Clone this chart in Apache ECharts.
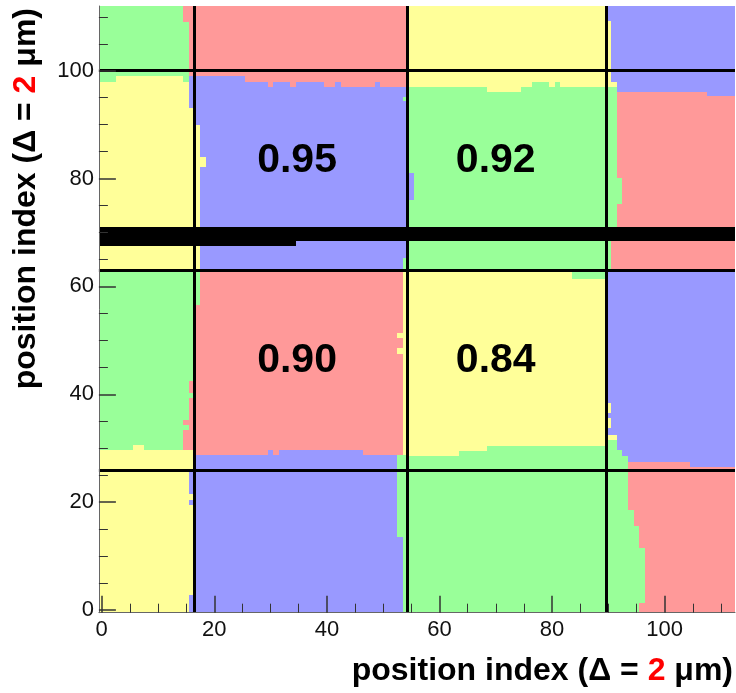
<!DOCTYPE html>
<html>
<head>
<meta charset="utf-8">
<script src="https://cdn.jsdelivr.net/npm/echarts@6/dist/echarts.min.js"></script>
<style>
  html, body { margin: 0; padding: 0; background: #fff; }
  #main { width: 736px; height: 693px; }
</style>
</head>
<body>
<div id="main"></div>
<script>
// colour index: 0 green, 1 red, 2 yellow, 3 blue, 4 black (dead rows)
const palette = ['#99ff99', '#ff9999', '#ffff99', '#9999ff', '#000000']

// column blocks along x (position index)
const colEdges = [-0.5, 16.5, 54.5, 89.5, 112.5]
// band edges along y for each column block, bottom to top
const bandEdges = [
  [-0.5, 29.7, 63, 99, 112],
  [-0.5, 28.7, 63, 97, 112],
  [-0.5, 30.4, 63, 97, 112],
  [-0.5, 27.5, 63, 96, 112]
]
// block colours, band (bottom -> top) x column block
const blockColors = [
  [2, 3, 0, 1],
  [0, 1, 2, 3],
  [2, 3, 0, 1],
  [0, 1, 2, 3]
]
// ragged borders: [x0, x1, y0, y1, colour]
const patches = [
  [5.5, 7.5, 29.7, 30.6, 2],
  [-0.5, 2.5, 98, 99, 0],
  [14.5, 15.5, 98, 99, 0],
  [14.5, 16.5, 109, 112, 1],
  [15.5, 16.5, 99, 109, 1],
  [15.5, 16.5, 93, 99, 3],
  [16.5, 17.5, 63, 90, 2],
  [17.5, 18.5, 82.2, 84, 2],
  [16.5, 17.5, 56.6, 63, 0],
  [15.5, 16.5, 40.3, 42.4, 1],
  [15.5, 16.5, 35.3, 39.3, 1],
  [14.5, 16.5, 34.3, 35.3, 1],
  [15.5, 16.5, 33.4, 34.3, 1],
  [14.5, 16.5, 29.7, 33.4, 1],
  [15.5, 16.5, 21.6, 25.7, 3],
  [15.5, 16.5, 19.5, 20.4, 3],
  [15.5, 16.5, -0.5, 2.8, 3],
  [29.5, 30.5, 28.7, 29.6, 3],
  [31.5, 46.5, 28.7, 29.6, 3],
  [16.5, 25.5, 97, 99, 3],
  [25.5, 29.5, 97, 98, 3],
  [30.5, 33.5, 97, 98, 3],
  [34.5, 39.5, 97, 98, 3],
  [41.5, 42.5, 97, 98, 3],
  [48.5, 49.5, 97, 98, 3],
  [53.5, 54.5, 94.3, 95.2, 0],
  [54.5, 55.5, 76, 81, 3],
  [53.5, 54.5, 63, 65.3, 0],
  [53.5, 54.5, 28.7, 63, 2],
  [52.5, 53.5, 50.5, 51.4, 2],
  [52.5, 53.5, 47.5, 48.6, 2],
  [52.5, 54.5, 13.5, 28.7, 0],
  [53.5, 54.5, -0.5, 13.5, 0],
  [54.5, 63.5, 28.6, 30.4, 2],
  [63.5, 68.5, 29.5, 30.4, 2],
  [83.5, 89.5, 61.3, 63, 0],
  [68.5, 74.5, 96, 97, 2],
  [76.5, 79.5, 97, 98, 0],
  [80.5, 81.5, 97, 98, 0],
  [89.5, 90.5, 98, 109.2, 2],
  [89.5, 91.5, 97, 98, 2],
  [89.5, 91.5, 63, 97, 0],
  [91.5, 92.5, 75.3, 80.1, 0],
  [90.5, 91.5, 63, 68.5, 1],
  [107.5, 112.5, 95.3, 96, 3],
  [89.5, 90.5, 36.5, 38.4, 2],
  [89.5, 90.5, 33.8, 35.6, 2],
  [89.5, 91.5, 31.5, 32.5, 2],
  [89.5, 91.5, 29.6, 31.5, 0],
  [89.5, 92.5, 28.6, 29.6, 0],
  [89.5, 93.5, -0.5, 28.6, 0],
  [93.5, 94.5, -0.5, 18.6, 0],
  [94.5, 95.5, -0.5, 15.5, 0],
  [95.5, 96.5, 1.3, 11.5, 0],
  [104.5, 112.5, 26.5, 27.5, 3],
  // dead rows
  [-0.5, 112.5, 68.5, 71.1, 4],
  [-0.5, 34.5, 67.5, 68.5, 4]
]

// sensor boundaries
const cutX = [16.5, 54.3, 89.7]
const cutY = [26, 63, 100]

// efficiencies written in the four central cells
const effX = [34.7, 70.0, 34.7, 70.0]
const effY = [83.3, 83.3, 46.2, 46.2]
const effText = ['0.95', '0.92', '0.90', '0.84']

const tickValues = [0, 20, 40, 60, 80, 100]

const rects = []
for (let b = 0; b < 4; b++) {
  for (let c = 0; c < 4; c++) {
    rects.push([colEdges[c], colEdges[c + 1], bandEdges[c][b], bandEdges[c][b + 1], blockColors[b][c]])
  }
}
patches.forEach(p => rects.push(p))

const font = 'Liberation Sans, Arial, Helvetica, sans-serif'
const axisTitle = 'position index (Δ = {r|2} μm)'

function axisCommon() {
  return {
    type: 'value',
    z: 10,
    axisLine: { show: true, onZero: false, lineStyle: { color: '#666', width: 1 } },
    axisTick: { show: true, inside: true, length: 17, customValues: tickValues, lineStyle: { color: '#333', width: 1.5 } },
    minorTick: { show: true, splitNumber: 4, length: 9, lineStyle: { color: '#333', width: 1 } },
    axisLabel: { customValues: tickValues, fontSize: 22, color: '#111', fontFamily: font },
    splitLine: { show: false },
    name: axisTitle,
    nameLocation: 'end',
    nameGap: -2
  }
}

const chart = echarts.init(document.getElementById('main'))

const xAxis = axisCommon()
xAxis.min = -0.5
xAxis.max = 112.5
xAxis.axisLabel.margin = 6
xAxis.nameTextStyle = {
  fontSize: 32, fontWeight: 'bold', color: '#000', fontFamily: font,
  align: 'right', verticalAlign: 'top', padding: [42, 0, 0, 0],
  rich: { r: { fontSize: 32, fontWeight: 'bold', color: '#ff0000', fontFamily: font } }
}

const yAxis = axisCommon()
yAxis.min = -0.5
yAxis.max = 112
yAxis.axisLabel.margin = 5
yAxis.nameRotate = 90
yAxis.nameTextStyle = {
  fontSize: 32, fontWeight: 'bold', color: '#000', fontFamily: font,
  align: 'right', verticalAlign: 'bottom', padding: [0, 0, 57, 0],
  rich: { r: { fontSize: 32, fontWeight: 'bold', color: '#ff0000', fontFamily: font } }
}

chart.setOption({
  animation: false,
  grid: { left: 98.9, right: 1, top: 6, bottom: 80.3, containLabel: false },
  xAxis: xAxis,
  yAxis: yAxis,
  series: [
    {
      type: 'custom',
      data: rects,
      encode: { x: [0, 1], y: [2, 3] },
      clip: true,
      silent: true,
      renderItem: function (params, api) {
        const p0 = api.coord([api.value(0), api.value(3)])
        const p1 = api.coord([api.value(1), api.value(2)])
        const x = Math.round(p0[0])
        const y = Math.round(p0[1])
        return {
          type: 'rect',
          shape: { x: x, y: y, width: Math.round(p1[0]) - x, height: Math.round(p1[1]) - y },
          style: { fill: palette[api.value(4)] }
        }
      }
    },
    {
      // sensor boundary lines
      type: 'scatter',
      data: [],
      silent: true,
      z: 4,
      markLine: {
        silent: true,
        symbol: 'none',
        label: { show: false },
        lineStyle: { color: '#000', width: 3, type: 'solid' },
        data: cutX.map(v => ({ xAxis: v })).concat(cutY.map(v => ({ yAxis: v })))
      }
    },
    {
      type: 'custom',
      data: effX.map((x, i) => [x, effY[i]]),
      encode: { x: 0, y: 1 },
      silent: true,
      z: 6,
      renderItem: function (params, api) {
        const p = api.coord([api.value(0), api.value(1)])
        return {
          type: 'text',
          x: p[0],
          y: p[1],
          style: {
            text: effText[params.dataIndex],
            fill: '#000',
            fontSize: 41,
            fontWeight: 'bold',
            fontFamily: font,
            align: 'center',
            verticalAlign: 'middle'
          }
        }
      }
    }
  ]
})
</script>
</body>
</html>
